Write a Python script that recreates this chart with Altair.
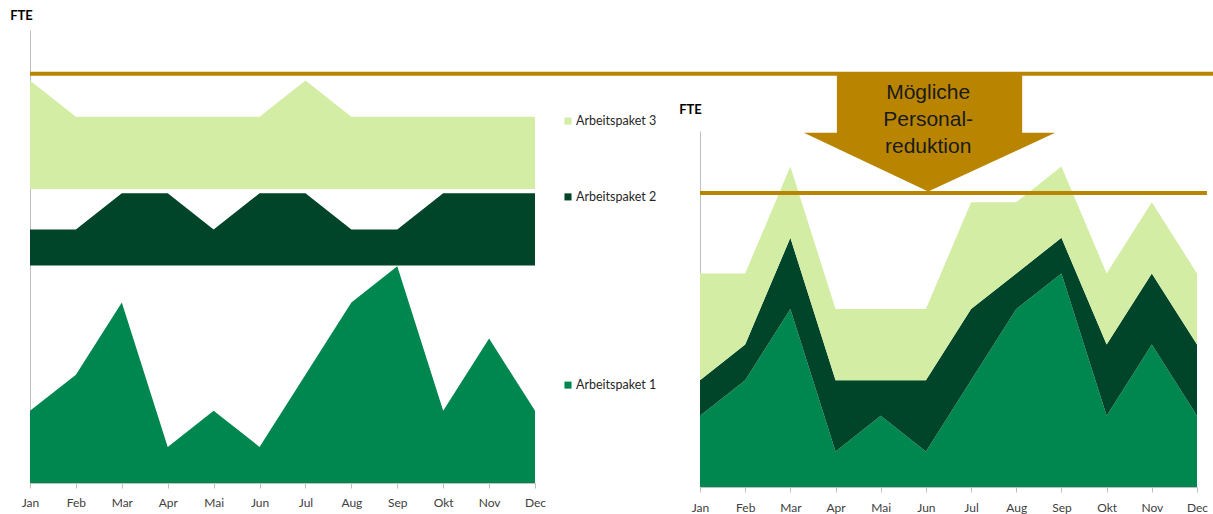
import json
import pandas as pd
import altair as alt

# ---------------- data ----------------
MONTHS = ["Jan", "Feb", "Mar", "Apr", "Mai", "Jun", "Jul", "Aug", "Sep", "Okt", "Nov", "Dec"]
SERIES = ["Arbeitspaket 1", "Arbeitspaket 2", "Arbeitspaket 3"]
AP1 = [2, 3, 5, 1, 2, 1, 3, 5, 6, 2, 4, 2]
AP2 = [1, 1, 2, 2, 1, 2, 2, 1, 1, 2, 2, 2]
AP3 = [3, 2, 2, 2, 2, 2, 3, 2, 2, 2, 2, 2]
ARROW_TEXT = ["Mögliche", "Personal-", "reduktion"]
Y_TITLE = "FTE"

# ---------------- styling / layout constants ----------------
COLORS = ["#00874F", "#00452A", "#D3EDA5"]
GOLD = "#B98500"
AXIS_GREY = "#BFBFBF"
LABEL_GREY = "#404040"
FONT = "Lato"

# left panel: each work package drawn as its own band, starting at its own base (FTE units)
LEFT_BASE = {"Arbeitspaket 1": 0.0, "Arbeitspaket 2": 6.02, "Arbeitspaket 3": 8.14}
LEGEND_Y = {"Arbeitspaket 1": 2.71, "Arbeitspaket 2": 7.92, "Arbeitspaket 3": 10.02}
CAP_LEFT = 11.33      # upper gold line (left scale)
CAP_RIGHT = 8.26      # lower gold line (right scale)

W, H = 1183, 457
LEFT_X_RANGE = [0, 505]
RIGHT_X_RANGE = [670, 1167]
LEFT_Y = alt.Scale(domain=[0, 12.54], range=[453, 0], nice=False, zero=False)
RIGHT_Y = alt.Scale(domain=[0, 10], range=[457, 101], nice=False, zero=False)
LEFT_X = alt.Scale(domain=[0, 11], range=LEFT_X_RANGE, nice=False, zero=False)
RIGHT_X = alt.Scale(domain=[0, 11], range=RIGHT_X_RANGE, nice=False, zero=False)

rows = []
for i, m in enumerate(MONTHS):
    for r, (s, vals) in enumerate(zip(SERIES, [AP1, AP2, AP3])):
        rows.append({"idx": i, "month": m, "series": s, "value": vals[i], "rank": r})
df = pd.DataFrame(rows)
df["base"] = df["series"].map(LEFT_BASE)
df["top"] = df["base"] + df["value"]

leg = pd.DataFrame({"series": SERIES, "ly": [LEGEND_Y[s] for s in SERIES]})

label_expr = json.dumps(MONTHS) + "[round(datum.value)]"

color = alt.Color("series:N", scale=alt.Scale(domain=SERIES, range=COLORS), legend=None)


def x_axis(offset, pad):
    return alt.Axis(orient="bottom", offset=offset, values=list(range(12)), labelExpr=label_expr,
                    title=None, grid=False, domainColor=AXIS_GREY, tickColor=AXIS_GREY, tickSize=5,
                    labelPadding=pad, labelFont=FONT, labelFontSize=12, labelColor=LABEL_GREY,
                    labelFlush=False, labelOverlap=False)


def y_axis(offset, tx, ty):
    return alt.Axis(orient="left", offset=offset, ticks=False, labels=False, grid=False,
                    domainColor=AXIS_GREY, title=Y_TITLE, titleAngle=0, titleX=tx, titleY=ty,
                    titleAlign="center", titleBaseline="middle", titleFont=FONT, titleFontSize=13,
                    titleFontWeight="bold", titleColor="#000000")


LXA = x_axis(-4, 9)
LYA = y_axis(0, -9, -15)
RXA = x_axis(0, 10)
RYA = y_axis(-670, -10, 79)

# ---------------- left panel ----------------
left_bands = alt.Chart(df).mark_area(interpolate="linear", opacity=1).encode(
    x=alt.X("idx:Q", scale=LEFT_X, axis=LXA),
    y=alt.Y("top:Q", scale=LEFT_Y, axis=LYA, stack=None),
    y2="base:Q",
    color=color,
    detail="series:N",
)

left_cap = alt.Chart(pd.DataFrame({"a": [0]})).mark_rule(color=GOLD, strokeWidth=4).encode(
    x=alt.value(0), x2=alt.value(W),
    y=alt.YDatum(CAP_LEFT, scale=LEFT_Y, axis=LYA),
)

leg_sq = alt.Chart(leg).mark_square(size=50, opacity=1).encode(
    x=alt.value(538),
    y=alt.Y("ly:Q", scale=LEFT_Y, axis=LYA),
    color=color,
)
leg_tx = alt.Chart(leg).mark_text(align="left", baseline="middle", font=FONT, fontSize=12.5,
                                   color="#262626").encode(
    x=alt.value(546),
    y=alt.Y("ly:Q", scale=LEFT_Y, axis=LYA),
    text="series:N",
)

left = alt.layer(left_bands, left_cap, leg_sq, leg_tx)

# ---------------- right panel ----------------
right_area = alt.Chart(df).mark_area(interpolate="linear", opacity=1).encode(
    x=alt.X("idx:Q", scale=RIGHT_X, axis=RXA),
    y=alt.Y("value:Q", scale=RIGHT_Y, axis=RYA, stack="zero"),
    color=color,
    order=alt.Order("rank:Q", sort="ascending"),
)

one = pd.DataFrame({"a": [0]})
right_cap = alt.Chart(one).mark_rule(color=GOLD, strokeWidth=4).encode(
    x=alt.XDatum(0, scale=RIGHT_X, axis=RXA),
    x2=alt.X2Datum(11.22),
    y=alt.YDatum(CAP_RIGHT, scale=RIGHT_Y, axis=RYA),
)

shaft = alt.Chart(one).mark_rect(color=GOLD).encode(
    x=alt.XDatum(3.03, scale=RIGHT_X, axis=RXA),
    x2=alt.X2Datum(7.13),
    y=alt.YDatum(9.94, scale=RIGHT_Y, axis=RYA),
    y2=alt.Y2Datum(11.6),
)

head_df = pd.DataFrame({"x": [2.30, 5.05, 7.86], "y": [9.95, 8.30, 9.95]})
head = alt.Chart(head_df).mark_area(color=GOLD, interpolate="linear", opacity=1).encode(
    x=alt.X("x:Q", scale=RIGHT_X, axis=RXA),
    y=alt.Y("y:Q", scale=RIGHT_Y, axis=RYA, stack=None),
    y2=alt.Y2Datum(9.95),
)

arrow_txt = alt.Chart(one).mark_text(align="center", baseline="middle", font="Liberation Sans",
                                      fontSize=21, lineHeight=27, color="#1A1A1A").encode(
    x=alt.XDatum(5.05, scale=RIGHT_X, axis=RXA),
    y=alt.YDatum(11.06, scale=RIGHT_Y, axis=RYA),
    text=alt.value(ARROW_TEXT),
)

right = alt.layer(right_area, right_cap, shaft, head, arrow_txt)

chart = alt.layer(left, right).resolve_scale(x="independent", y="independent").properties(
    width=W, height=H,
    autosize=alt.AutoSizeParams(type="none"),
    padding={"left": 30, "top": 30, "right": 0, "bottom": 27},
    background="white",
).configure_view(stroke=None)

chart.save("out.html", embed_options={"renderer": "svg", "actions": False})
